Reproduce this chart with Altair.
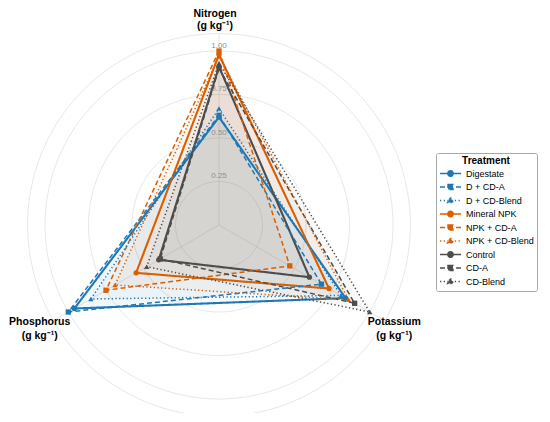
import altair as alt
import pandas as pd

# ---------------- data ----------------
treatments = ["Digestate", "D + CD-A", "D + CD-Blend",
              "Mineral NPK", "NPK + CD-A", "NPK + CD-Blend",
              "Control", "CD-A", "CD-Blend"]
nutrients = ["Nitrogen", "Potassium", "Phosphorus"]
nitrogen   = [0.62, 0.63, 0.67, 0.98, 1.00, 0.97, 0.91, 0.90, 0.93]
potassium  = [0.84, 0.68, 0.81, 0.73, 0.47, 0.86, 0.60, 0.90, 1.00]
phosphorus = [0.96, 1.00, 0.85, 0.55, 0.75, 0.69, 0.40, 0.39, 0.48]
axis_titles = ["Nitrogen\n(g kg\u207b\u00b9)", "Potassium\n(g kg\u207b\u00b9)", "Phosphorus\n(g kg\u207b\u00b9)"]
ring_values = [0.25, 0.50, 0.75, 1.00]
outer_ring = 1.1

# ---------------- style ----------------
axis_angles = {"Nitrogen": 90, "Potassium": -30, "Phosphorus": 210}
colors = ["#1F78B4"] * 3 + ["#D95F02"] * 3 + ["#4D4D4D"] * 3
dashes = [[1, 0], [5, 3], [1.3, 2.4]] * 3
shapes = ["circle", "square", "triangle-up"] * 3
legend_paths = [
    "M-1,0H1M-0.25,0A0.25,0.25,0,1,1,0.25,0A0.25,0.25,0,1,1,-0.25,0Z",
    "M-1,0H1M-0.23,-0.23H0.23V0.23H-0.23Z",
    "M-1,0H1M0,-0.29L0.27,0.19H-0.27Z",
] * 3
FONT = "Liberation Sans"

# layout: page centre of radar (219,225), 174 px per unit, page margin 8
W, H = 534, 405
CX, CY, S = 219 - 8, 225 - 8, 174.0
xdom = [-CX / S, (W - CX) / S]
ydom = [-(H - CY) / S, CY / S]
xs = alt.Scale(domain=xdom, nice=False, zero=False)
ys = alt.Scale(domain=ydom, nice=False, zero=False)

# ---------------- tables ----------------
series = {"Nitrogen": nitrogen, "Potassium": potassium, "Phosphorus": phosphorus}
rows = []
for i, t in enumerate(treatments):
    for k, n in enumerate(nutrients + [nutrients[0]]):
        rows.append({"Treatment": t, "Nutrient": n, "value": series[n][i],
                     "k": k, "angle": axis_angles[n]})
df = pd.DataFrame(rows)

ring_rows = [{"r": r, "deg": d} for r in ring_values + [outer_ring] for d in range(0, 361, 2)]
rings_df = pd.DataFrame(ring_rows)
axes_df = pd.DataFrame({"Nutrient": nutrients, "title": axis_titles,
                        "angle": [axis_angles[n] for n in nutrients]})
ringlab_df = pd.DataFrame({"r": ring_values})

xy = dict(x="datum.value*cos(datum.angle*PI/180)", y="datum.value*sin(datum.angle*PI/180)")

col_scale = alt.Scale(domain=treatments, range=colors)
dash_scale = alt.Scale(domain=treatments, range=dashes)

# grid rings
rings = alt.Chart(rings_df).transform_calculate(
    x="datum.r*cos(datum.deg*PI/180)", y="datum.r*sin(datum.deg*PI/180)"
).mark_line(color="#e4e4e4", strokeWidth=0.9).encode(
    x=alt.X("x:Q", scale=xs, axis=None),
    y=alt.Y("y:Q", scale=ys, axis=None),
    detail="r:N",
    order="deg:Q",
)

spokes = alt.Chart(axes_df).transform_calculate(
    x0="0", y0="0",
    x1=f"{outer_ring}*cos(datum.angle*PI/180)", y1=f"{outer_ring}*sin(datum.angle*PI/180)"
).mark_rule(color="#e4e4e4", strokeWidth=0.9).encode(
    x=alt.X("x0:Q", scale=xs, axis=None), y=alt.Y("y0:Q", scale=ys, axis=None),
    x2="x1:Q", y2="y1:Q",
)

ring_labels = alt.Chart(ringlab_df).transform_calculate(
    x="0", y="datum.r + 0.03"
).mark_text(font=FONT, fontSize=8, color="#8f8f8f", baseline="middle").encode(
    x=alt.X("x:Q", scale=xs, axis=None), y=alt.Y("y:Q", scale=ys, axis=None),
    text=alt.Text("r:Q", format=".2f"),
)

base = alt.Chart(df).transform_calculate(**xy)
X = alt.X("x:Q", scale=xs, axis=None)
Y = alt.Y("y:Q", scale=ys, axis=None)

fills = base.mark_line(fillOpacity=0.03, strokeOpacity=0, strokeWidth=0).encode(
    x=X, y=Y, order="k:Q",
    fill=alt.Fill("Treatment:N", scale=col_scale, legend=None),
    detail="Treatment:N",
)

def lines(members, width):
    return base.transform_filter(
        alt.FieldOneOfPredicate(field="Treatment", oneOf=members)
    ).mark_line(strokeWidth=width).encode(
        x=X, y=Y, order="k:Q",
        color=alt.Color("Treatment:N", scale=col_scale, legend=None),
        strokeDash=alt.StrokeDash("Treatment:N", scale=dash_scale, legend=None),
        detail="Treatment:N",
    )

lines_solid = lines(treatments[0::3], 2.1)
lines_dash = lines(treatments[1::3], 1.5)
lines_dot = lines(treatments[2::3], 1.5)

points = base.transform_filter("datum.k < 3").mark_point(
    filled=True, size=28, opacity=1
).encode(
    x=X, y=Y,
    color=alt.Color("Treatment:N", scale=col_scale, legend=None),
    shape=alt.Shape("Treatment:N", scale=alt.Scale(domain=treatments, range=shapes), legend=None),
)

def axis_label(name, dx, dy, line_height):
    return alt.Chart(axes_df).transform_filter(
        alt.FieldEqualPredicate(field="Nutrient", equal=name)
    ).transform_calculate(
        x="1.19*cos(datum.angle*PI/180)", y="1.19*sin(datum.angle*PI/180)"
    ).mark_text(font=FONT, fontSize=10.5, fontWeight="bold", color="black",
                baseline="middle", align="center", lineBreak="\n",
                lineHeight=line_height, dx=dx, dy=dy).encode(
        x=alt.X("x:Q", scale=xs, axis=None), y=alt.Y("y:Q", scale=ys, axis=None),
        text="title:N",
    )

lab_n = axis_label("Nitrogen", -4, -4, 12.5)
lab_k = axis_label("Potassium", -4, -7, 14)
lab_p = axis_label("Phosphorus", 0, -7, 14)

leg = alt.Legend(
    title="Treatment", orient="none", legendX=428, legendY=145,
    padding=3, fillColor="white", strokeColor="#a8a8a8", cornerRadius=2,
    titleFont=FONT, titleFontSize=10, titleFontWeight="bold", titleColor="black",
    titleAnchor="middle", titlePadding=1,
    labelFont=FONT, labelFontSize=9, labelColor="black", labelOffset=4, labelLimit=200,
    symbolSize=441, symbolStrokeWidth=1.6, clipHeight=13, rowPadding=0.5,
)

legend_layer = base.transform_filter("false").mark_point(filled=True, opacity=1).encode(
    x=X, y=Y,
    fill=alt.Fill("Treatment:N", scale=col_scale, legend=leg),
    stroke=alt.Stroke("Treatment:N", scale=col_scale, legend=leg),
    strokeDash=alt.StrokeDash("Treatment:N", scale=dash_scale, legend=leg),
    shape=alt.Shape("Treatment:N", scale=alt.Scale(domain=treatments, range=legend_paths), legend=leg),
)

chart = alt.layer(
    rings, spokes, fills, ring_labels, lines_solid, lines_dash, lines_dot, points,
    lab_n, lab_k, lab_p, legend_layer
).resolve_scale(
    fill="independent", stroke="independent", strokeDash="independent", shape="independent"
).properties(
    width=W, height=H, padding=0,
    autosize=alt.AutoSizeParams(type="none"),
    background="white",
).configure_view(stroke=None)

chart.save("out.html", embed_options={"renderer": "svg", "actions": False})
